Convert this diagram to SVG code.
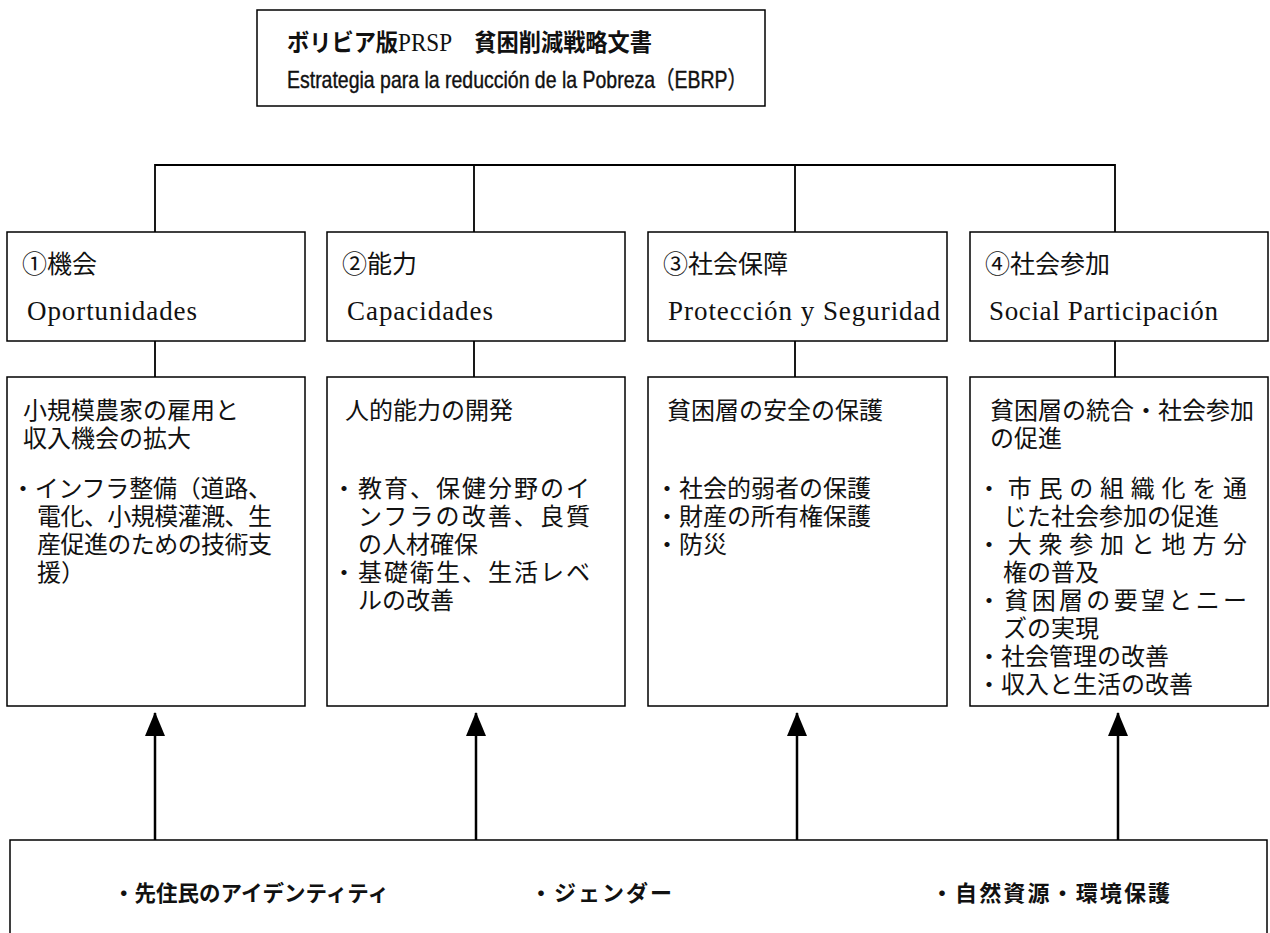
<svg xmlns="http://www.w3.org/2000/svg" width="1270" height="933" viewBox="0 0 1270 933">
<defs>
<style>
.box{fill:#fff;stroke:#000;stroke-width:1.5}
.ln{fill:none;stroke:#000;stroke-width:1.8}
.arr{fill:none;stroke:#000;stroke-width:2.5}
.jp{font-family:"Noto Sans CJK JP","Noto Sans CJK SC",sans-serif;font-size:24px;fill:#111}
.hj{font-family:"Noto Sans CJK JP","Noto Sans CJK SC",sans-serif;font-size:25px;fill:#111}
.hl{font-family:"Liberation Serif","Noto Sans CJK JP",serif;font-size:27px;fill:#111}
.tt{font-family:"Noto Sans CJK JP","Noto Sans CJK SC",sans-serif;font-size:24px;font-weight:bold;fill:#111}
.t2{font-family:"Liberation Sans","Noto Sans CJK JP",sans-serif;font-size:24px;fill:#111;stroke:#111;stroke-width:0.4}
.bt{font-family:"Noto Sans CJK JP","Noto Sans CJK SC",sans-serif;font-size:22px;font-weight:bold;fill:#111}
</style>
<marker id="ah" viewBox="0 0 24 20" refX="23" refY="10" markerWidth="24" markerHeight="20" markerUnits="userSpaceOnUse" orient="auto">
<path d="M0,0 L24,10 L0,20 z" fill="#000"/>
</marker>
</defs>
<rect width="1270" height="933" fill="#fff"/>

<g id="connectors">
<path class="ln" d="M155,232 V165 H1115 V232 M474,165 V232 M795,165 V232"/>
<path class="ln" d="M155,341 V377 M474,341 V377 M795,341 V377 M1115,341 V377"/>
<line class="arr" x1="155" y1="840" x2="155" y2="713" marker-end="url(#ah)"/>
<line class="arr" x1="476" y1="840" x2="476" y2="713" marker-end="url(#ah)"/>
<line class="arr" x1="797" y1="840" x2="797" y2="713" marker-end="url(#ah)"/>
<line class="arr" x1="1118" y1="840" x2="1118" y2="713" marker-end="url(#ah)"/>
</g>

<g id="title">
<rect class="box" x="257" y="10" width="508" height="96"/>
<text class="tt" x="287" y="51" textLength="365" lengthAdjust="spacingAndGlyphs">ボリビア版<tspan style="font-family:'Liberation Serif',serif;font-weight:normal;font-size:25px">PRSP</tspan>　貧困削減戦略文書</text>
<text class="t2" x="287" y="88" textLength="460" lengthAdjust="spacingAndGlyphs">Estrategia para la reducción de la Pobreza（EBRP）</text>
</g>

<g id="h1">
<rect class="box" x="7" y="232" width="298" height="109"/>
<text class="hj" x="22" y="273">①機会</text>
<text class="hl" x="27" y="320" textLength="170" lengthAdjust="spacing">Oportunidades</text>
</g>
<g id="h2">
<rect class="box" x="327" y="232" width="298" height="109"/>
<text class="hj" x="342" y="273">②能力</text>
<text class="hl" x="347" y="320" textLength="146" lengthAdjust="spacing">Capacidades</text>
</g>
<g id="h3">
<rect class="box" x="648" y="232" width="299" height="109"/>
<text class="hj" x="663" y="273">③社会保障</text>
<text class="hl" x="668" y="320" textLength="272" lengthAdjust="spacing">Protección y Seguridad</text>
</g>
<g id="h4">
<rect class="box" x="970" y="232" width="298" height="109"/>
<text class="hj" x="985" y="273">④社会参加</text>
<text class="hl" x="989" y="320" textLength="229" lengthAdjust="spacing">Social Participación</text>
</g>

<g id="c1">
<rect class="box" x="7" y="377" width="298" height="329"/>
<text class="jp" x="23" y="419">小規模農家の雇用と</text>
<text class="jp" x="23" y="447">収入機会の拡大</text>
<text class="jp" x="11" y="497" textLength="261" lengthAdjust="spacing">・インフラ整備（道路、</text>
<text class="jp" x="37" y="525" textLength="235" lengthAdjust="spacing">電化、小規模灌漑、生</text>
<text class="jp" x="37" y="553" textLength="235" lengthAdjust="spacing">産促進のための技術支</text>
<text class="jp" x="37" y="581">援）</text>
</g>
<g id="c2">
<rect class="box" x="327" y="377" width="298" height="329"/>
<text class="jp" x="345" y="419">人的能力の開発</text>
<text class="jp" x="332" y="497" textLength="258" lengthAdjust="spacing">・教育、保健分野のイ</text>
<text class="jp" x="358" y="525" textLength="232" lengthAdjust="spacing">ンフラの改善、良質</text>
<text class="jp" x="358" y="553">の人材確保</text>
<text class="jp" x="332" y="581" textLength="258" lengthAdjust="spacing">・基礎衛生、生活レベ</text>
<text class="jp" x="358" y="609">ルの改善</text>
</g>
<g id="c3">
<rect class="box" x="648" y="377" width="299" height="329"/>
<text class="jp" x="667" y="419">貧困層の安全の保護</text>
<text class="jp" x="655" y="497">・社会的弱者の保護</text>
<text class="jp" x="655" y="525">・財産の所有権保護</text>
<text class="jp" x="655" y="553">・防災</text>
</g>
<g id="c4">
<rect class="box" x="970" y="377" width="298" height="329"/>
<text class="jp" x="990" y="419">貧困層の統合・社会参加</text>
<text class="jp" x="990" y="447">の促進</text>
<text class="jp" x="977" y="497" textLength="270" lengthAdjust="spacing">・市民の組織化を通</text>
<text class="jp" x="1003" y="525">じた社会参加の促進</text>
<text class="jp" x="977" y="553" textLength="270" lengthAdjust="spacing">・大衆参加と地方分</text>
<text class="jp" x="1003" y="581">権の普及</text>
<text class="jp" x="977" y="609" textLength="270" lengthAdjust="spacing">・貧困層の要望とニー</text>
<text class="jp" x="1003" y="637">ズの実現</text>
<text class="jp" x="977" y="665">・社会管理の改善</text>
<text class="jp" x="977" y="693">・収入と生活の改善</text>
</g>

<g id="bottom">
<rect class="box" x="10" y="840" width="1257" height="110"/>
<text class="bt" x="113" y="901" textLength="276" lengthAdjust="spacingAndGlyphs">・先住民のアイデンティティ</text>
<text class="bt" x="530" y="901" textLength="142" lengthAdjust="spacing">・ジェンダー</text>
<text class="bt" x="931" y="901" textLength="239" lengthAdjust="spacing">・自然資源・環境保護</text>
</g>
</svg>
